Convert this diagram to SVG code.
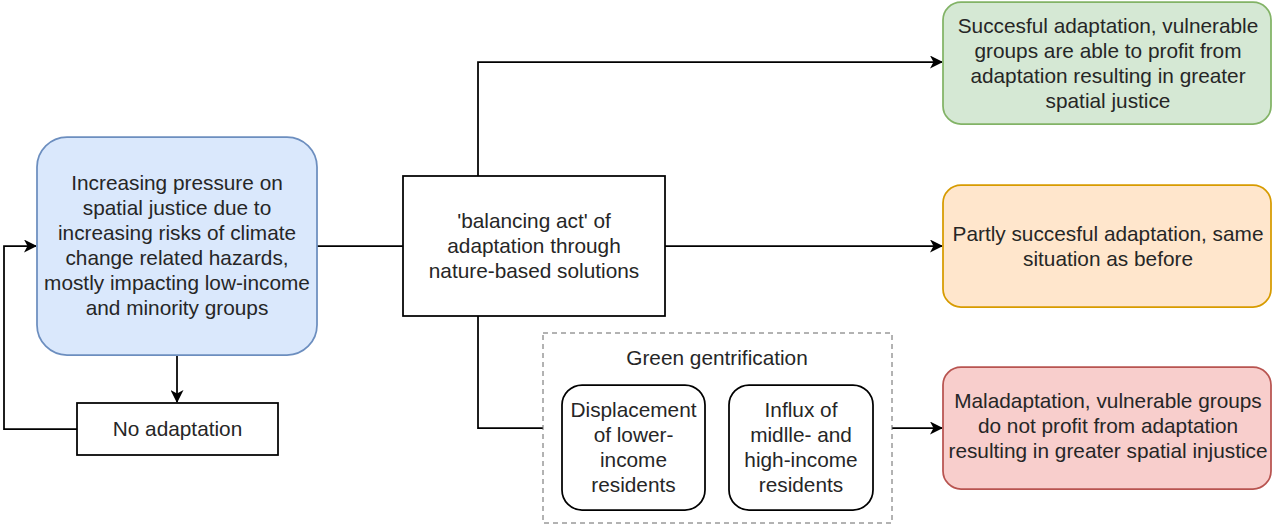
<svg xmlns="http://www.w3.org/2000/svg" width="1272" height="525" viewBox="0 0 1272 525">
<style>
text{font-family:"Liberation Sans",Arial,sans-serif;font-size:20.8px;fill:#262626;text-anchor:middle}
.plain{fill:#fff;stroke:#000;stroke-width:1.75}
.edge{fill:none;stroke:#000;stroke-width:1.75}
</style>
<defs>
<marker id="arr" markerUnits="userSpaceOnUse" viewBox="0 0 13 13" refX="12" refY="6.5" markerWidth="13" markerHeight="13" orient="auto">
<path d="M0,0 L13,6.5 L0,13 L3.5,6.5 Z" fill="#000"/>
</marker>
</defs>
<g id="connectors">
<path class="edge" d="M317,246 L403,246"/>
<path class="edge" d="M177,355 L177,402" marker-end="url(#arr)"/>
<path class="edge" d="M77,429 L4,429 L4,246 L36,246" marker-end="url(#arr)"/>
<path class="edge" d="M478,176 L478,62 L942,62" marker-end="url(#arr)"/>
<path class="edge" d="M665,246 L942,246" marker-end="url(#arr)"/>
<path class="edge" d="M478,316 L478,428 L543,428"/>
<path class="edge" d="M892,428 L942,428" marker-end="url(#arr)"/>
</g>
<g id="pressure">
<rect x="37" y="137" width="280" height="218" rx="30" fill="#dae8fc" stroke="#6c8ebf" stroke-width="1.75"/>
<text x="177" y="190"><tspan x="177">Increasing pressure on</tspan><tspan x="177" dy="25">spatial justice due to</tspan><tspan x="177" dy="25">increasing risks of climate</tspan><tspan x="177" dy="25">change related hazards,</tspan><tspan x="177" dy="25">mostly impacting low-income</tspan><tspan x="177" dy="25">and minority groups</tspan></text>
</g>
<g id="no-adaptation">
<rect class="plain" x="77" y="403" width="201" height="52"/>
<text x="177.5" y="436">No adaptation</text>
</g>
<g id="balancing">
<rect class="plain" x="403" y="176" width="262" height="140"/>
<text x="534" y="228"><tspan x="534">'balancing act' of</tspan><tspan x="534" dy="25">adaptation through</tspan><tspan x="534" dy="25">nature-based solutions</tspan></text>
</g>
<g id="green-gentrification">
<rect x="543" y="333" width="349" height="190" fill="none" stroke="#666" stroke-width="1" stroke-dasharray="5 4"/>
<text x="717" y="365">Green gentrification</text>
</g>
<g id="displacement">
<rect class="plain" x="562" y="385" width="143" height="125" rx="20"/>
<text x="633.5" y="417"><tspan x="633.5">Displacement</tspan><tspan x="633.5" dy="25">of lower-</tspan><tspan x="633.5" dy="25">income</tspan><tspan x="633.5" dy="25">residents</tspan></text>
</g>
<g id="influx">
<rect class="plain" x="729" y="385" width="144" height="125" rx="20"/>
<text x="801" y="417"><tspan x="801">Influx of</tspan><tspan x="801" dy="25">midlle- and</tspan><tspan x="801" dy="25">high-income</tspan><tspan x="801" dy="25">residents</tspan></text>
</g>
<g id="successful">
<rect x="943" y="2" width="328" height="122" rx="18" fill="#d5e8d4" stroke="#82b366" stroke-width="1.75"/>
<text x="1108" y="33"><tspan x="1108">Succesful adaptation, vulnerable</tspan><tspan x="1108" dy="25">groups are able to profit from</tspan><tspan x="1108" dy="25">adaptation resulting in greater</tspan><tspan x="1108" dy="25">spatial justice</tspan></text>
</g>
<g id="partly">
<rect x="943" y="185" width="328" height="122" rx="18" fill="#ffe6cc" stroke="#d79b00" stroke-width="1.75"/>
<text x="1108" y="241"><tspan x="1108">Partly succesful adaptation, same</tspan><tspan x="1108" dy="25">situation as before</tspan></text>
</g>
<g id="maladaptation">
<rect x="943" y="367" width="328" height="122" rx="18" fill="#f8cecc" stroke="#b85450" stroke-width="1.75"/>
<text x="1108" y="408"><tspan x="1108">Maladaptation, vulnerable groups</tspan><tspan x="1108" dy="25">do not profit from adaptation</tspan><tspan x="1108" dy="25">resulting in greater spatial injustice</tspan></text>
</g>
</svg>
